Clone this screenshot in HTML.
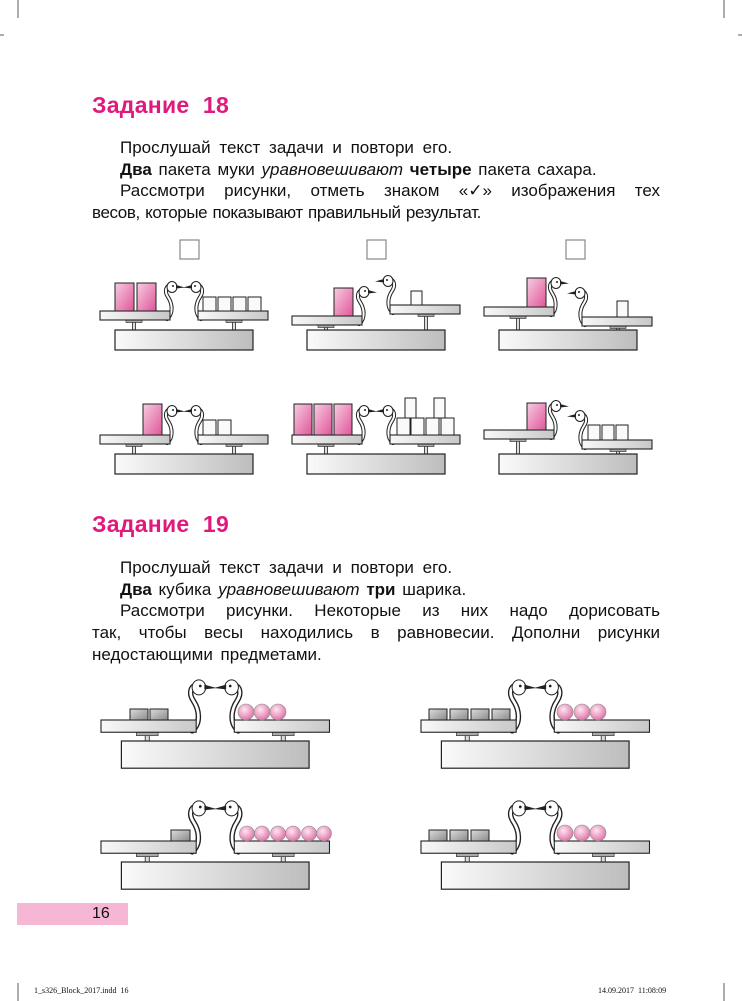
<!DOCTYPE html>
<html><head><meta charset="utf-8">
<style>
html,body{margin:0;padding:0;background:#fff}
body{width:742px;height:1001px;position:relative;overflow:hidden;font-family:"Liberation Sans",sans-serif;color:#111}
.t{position:absolute;font-weight:bold;color:#e0197d;font-size:23px;letter-spacing:0.3px}
.l{position:absolute;font-size:17px;line-height:22px;white-space:nowrap}
.j{text-align:justify;text-align-last:justify;white-space:normal}
svg{position:absolute;left:0;top:0}
</style></head><body>
<div class="t" style="left:92px;top:92px">Задание&nbsp; 18</div>
<div class="l" style="left:120px;top:137px;word-spacing:4px">Прослушай текст задачи и повтори его.</div>
<div class="l" style="left:120px;top:159px;word-spacing:2px"><b>Два</b> пакета муки <i>уравновешивают</i> <b>четыре</b> пакета сахара.</div>
<div class="l j" style="left:120px;top:180px;width:540px">Рассмотри рисунки, отметь знаком <span style="display:inline-block">«✓»</span> изображения тех</div>
<div class="l" style="left:92px;top:202px;word-spacing:1px;letter-spacing:-0.4px">весов, которые показывают правильный результат.</div>

<div class="t" style="left:92px;top:511px">Задание&nbsp; 19</div>
<div class="l" style="left:120px;top:557px;word-spacing:4px">Прослушай текст задачи и повтори его.</div>
<div class="l" style="left:120px;top:579px;word-spacing:2px"><b>Два</b> кубика <i>уравновешивают</i> <b>три</b> шарика.</div>
<div class="l j" style="left:120px;top:600px;width:540px">Рассмотри рисунки. Некоторые из них надо дорисовать</div>
<div class="l j" style="left:92px;top:622px;width:568px">так, чтобы весы находились в равновесии. Дополни рисунки</div>
<div class="l" style="left:92px;top:644px;word-spacing:3px">недостающими предметами.</div>

<div style="position:absolute;left:17px;top:903px;width:111px;height:22px;background:#f5b7d3"></div>
<div class="l" style="left:92px;top:903px;font-size:16px">16</div>
<div style="position:absolute;left:34px;top:986px;font-size:8px;font-family:'Liberation Serif',serif">1_s326_Block_2017.indd&nbsp;&nbsp;16</div>
<div style="position:absolute;left:598px;top:986px;font-size:8px;font-family:'Liberation Serif',serif">14.09.2017&nbsp;&nbsp;11:08:09</div>

<svg id="s" width="742" height="1001" xmlns="http://www.w3.org/2000/svg">
<defs>
<linearGradient id="gp" x1="0" y1="0" x2="1" y2="0"><stop offset="0" stop-color="#f8f8f8"/><stop offset="1" stop-color="#c8c8c8"/></linearGradient>
<linearGradient id="gb" x1="0" y1="0" x2="1" y2="0"><stop offset="0" stop-color="#fafafa"/><stop offset="1" stop-color="#bdbdbd"/></linearGradient>
<linearGradient id="pk" x1="0" y1="0" x2="1" y2="1"><stop offset="0" stop-color="#f6cde0"/><stop offset="1" stop-color="#e0559a"/></linearGradient>
<linearGradient id="cb" x1="0" y1="0" x2="1" y2="1"><stop offset="0" stop-color="#dcdcdc"/><stop offset="1" stop-color="#8a8a8a"/></linearGradient>
<radialGradient id="ball" cx="0.4" cy="0.35" r="0.7"><stop offset="0" stop-color="#fde6f0"/><stop offset="1" stop-color="#de6ea6"/></radialGradient>
</defs>
<g stroke="#333" stroke-width="0.8">
<line x1="18" y1="0" x2="18" y2="18"/><line x1="724" y1="0" x2="724" y2="18"/>
<line x1="0" y1="35" x2="4" y2="35"/><line x1="738" y1="35" x2="742" y2="35"/>
<line x1="18" y1="983" x2="18" y2="1001"/><line x1="724" y1="983" x2="724" y2="1001"/>
</g>
<g fill="none" stroke="#888" stroke-width="1.2">
<rect x="180" y="240" width="19" height="19"/><rect x="367" y="240" width="19" height="19"/><rect x="566" y="240" width="19" height="19"/>
</g>
<g id="g"></g>
</svg>
<script>
var g=document.getElementById('g'),h='';
function R(x,y,w,hh,f,sw){h+='<rect x="'+x+'" y="'+y+'" width="'+w+'" height="'+hh+'" fill="'+f+'" stroke="#222" stroke-width="'+(sw||1)+'"/>';}
function bird(px,py,s,dir){
 var d=function(a,b){return (px+dir*a*s)+','+(py+b*s);};
 var p='M'+d(-3,8)+' C'+d(4,2)+' '+d(2,-8)+' '+d(-2,-14)+' C'+d(-6,-20)+' '+d(-4,-26)+' '+d(2,-26);
 h+='<path d="'+p+'" fill="none" stroke="#222" stroke-width="'+(4*s)+'" stroke-linecap="round"/>';
 h+='<path d="'+p+'" fill="none" stroke="#fff" stroke-width="'+(2*s)+'" stroke-linecap="round"/>';
 h+='<ellipse cx="'+(px+dir*2*s)+'" cy="'+(py-24*s)+'" rx="'+(5*s)+'" ry="'+(5.5*s)+'" fill="#fff" stroke="#222" stroke-width="1"/>';
 h+='<circle cx="'+(px+dir*3*s)+'" cy="'+(py-25*s)+'" r="'+(1*s)+'" fill="#222"/>';
 h+='<polygon points="'+d(6,-26)+' '+d(15,-23.5)+' '+d(6,-22.5)+'" fill="#222"/>';
}
function scale(x0,s,ly,ry,by){
 var pw=70*s,gap=28*s,ph=9*s;
 var lx=x0,rx=x0+pw+gap;
 var p1=x0+34*s,p2=x0+134*s;
 R(p1-1.5*s,ly+ph,3*s,by-ly-ph,'#ddd',0.8);R(p2-1.5*s,ry+ph,3*s,by-ry-ph,'#ddd',0.8);
 R(p1-8*s,ly+ph,16*s,2.5*s,'#aaa',0.6);R(p2-8*s,ry+ph,16*s,2.5*s,'#aaa',0.6);
 R(x0+15*s,by,138*s,20*s,'url(#gb)',1.2);
 bird(lx+pw,ly,s,1);bird(rx,ry,s,-1);
 R(lx,ly,pw,ph,'url(#gp)',1.1);R(rx,ry,pw,ph,'url(#gp)',1.1);
}
function pink(x,y,w,hh){R(x,y,w,hh,'url(#pk)',1);}
function box(x,y,w,hh){R(x,y,w,hh,'#fafafa',1);}
function cube(x,y,w,hh){R(x,y,w,hh,'url(#cb)',1);}
function balls(cs,y,r){cs.forEach(function(c){h+='<circle cx="'+c+'" cy="'+(y-r)+'" r="'+r+'" fill="url(#ball)" stroke="#888" stroke-width="0.6"/>';});}
scale(100,1,311,311,330);
pink(115,283,19,28);pink(137,283,19,28);
[203,218,233,248].forEach(function(x){box(x,297,13,14);});
scale(292,1,316,305,330);
pink(334,288,19,28);box(411,291,11,14);
scale(484,1,307,317,330);
pink(527,278,19,29);box(617,301,11,16);
scale(100,1,435,435,454);
pink(143,404,19,31);box(203,420,13,15);box(218,420,13,15);
scale(292,1,435,435,454);
pink(294,404,18,31);pink(314,404,18,31);pink(334,404,18,31);
[397,411,426,441].forEach(function(x){box(x,418,13,17);});box(405,398,11,20);box(434,398,11,20);
scale(484,1,430,440,454);
pink(527,403,19,27);[588,602,616].forEach(function(x){box(x,425,12,15);});
var S=1.36;
scale(101,S,720,720,741);cube(130,709,18,11);cube(150,709,18,11);balls([246,262,278],720,8);
scale(421,S,720,720,741);[429,450,471,492].forEach(function(x){cube(x,709,18,11);});balls([565,582,598],720,8);
scale(101,S,841,841,862);cube(171,830,19,11);balls([247,262,278,293,309,324],841,7.5);
scale(421,S,841,841,862);[429,450,471].forEach(function(x){cube(x,830,18,11);});balls([565,582,598],841,8);
g.innerHTML=h;
</script>
</body></html>
